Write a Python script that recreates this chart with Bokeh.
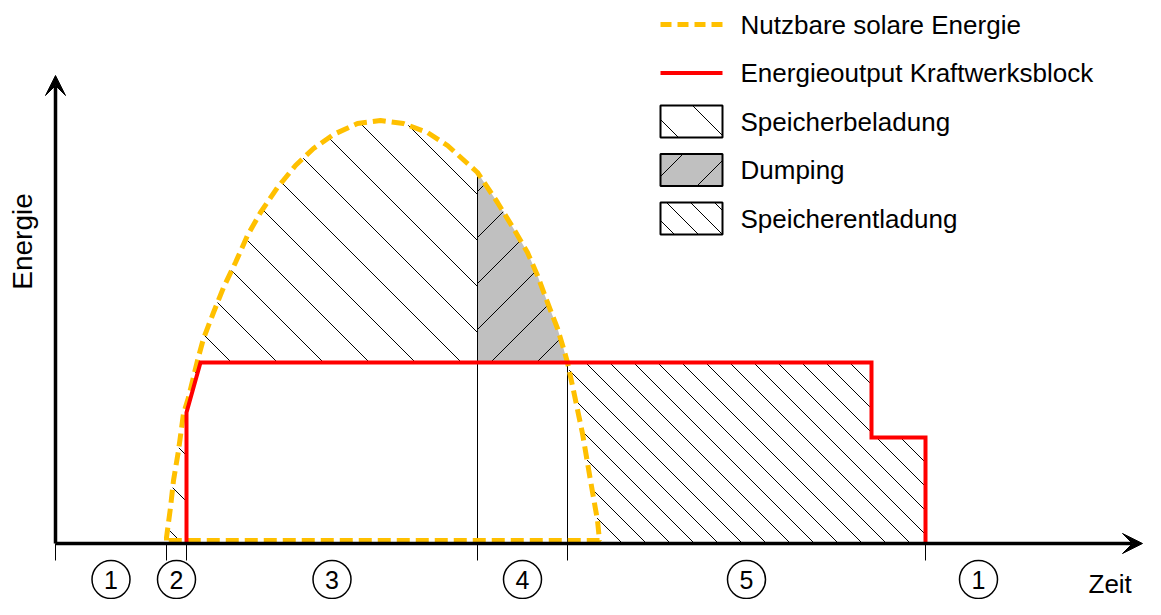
import math
from bokeh.plotting import figure
from bokeh.models import Range1d, Arrow, VeeHead
from bokeh.core.properties import value
from bokeh.embed import file_html
from bokeh.resources import INLINE

# ---------------- data (abstract units: time / energy) ----------------
phase_bounds = [0.0, 11.1, 13.1, 42.2, 51.2, 87.0]
phase_end = 97.6
phase_labels = ["1", "2", "3", "4", "5", "1"]

# usable solar energy (closed curve, dashed)
solar_t = [11.1, 11.1, 11.5, 11.8, 12.3, 12.8, 13.3, 14.2, 14.8, 15.8, 16.8, 18.0,
           19.2, 20.5, 22.2, 24.0, 25.8, 27.8, 30.2, 32.5, 34.8, 37.2, 39.2, 41.2,
           42.2, 44.2, 45.8, 47.2, 48.2, 49.2, 50.2, 50.8, 51.2, 51.8, 52.7, 53.5,
           54.2, 54.4]
solar_e = [0.3, 0.6, 3.6, 6.3, 9.3, 13.0, 14.6, 18.3, 20.5, 23.1, 25.6, 28.1,
           30.8, 33.1, 35.6, 37.8, 39.5, 40.9, 42.0, 42.3, 42.0, 41.1, 39.8, 38.0,
           37.1, 34.1, 31.5, 29.1, 26.8, 24.1, 21.5, 19.5, 18.1, 15.3, 11.0, 6.3,
           2.3, 0.3]
solar_base = 0.3

# power block energy output (red)
block_t = [13.1, 13.1, 14.5, 81.6, 81.6, 87.0, 87.0]
block_e = [0.0, 13.1, 18.1, 18.1, 10.6, 10.6, 0.0]
block_level = 18.1

legend_labels = ["Nutzbare solare Energie", "Energieoutput Kraftwerksblock",
                 "Speicherbeladung", "Dumping", "Speicherentladung"]

# ---------------- styling / layout constants ----------------
FONT = "Liberation Sans"
ORANGE = "#FFC000"
RED = "#FF0000"
GREY = "#C0C0C0"
x_axis_end = 108.7
y_axis_end = 46.8
tick_depth = -1.7
label_y = -3.6


def hatch(px, py, s, spacing, offset):
    """Segments of the family x + s*y = c clipped to polygon (px, py)."""
    n = len(px)
    us = [px[i] + s * py[i] for i in range(n)]
    kmin = math.floor((min(us) - offset) / spacing)
    kmax = math.ceil((max(us) - offset) / spacing)
    x0, y0, x1, y1 = [], [], [], []
    for k in range(kmin, kmax + 1):
        c = offset + k * spacing
        pts = []
        for i in range(n):
            j = (i + 1) % n
            u1, u2 = us[i], us[j]
            if (u1 <= c < u2) or (u2 <= c < u1):
                t = (c - u1) / (u2 - u1)
                pts.append((px[i] + t * (px[j] - px[i]), py[i] + t * (py[j] - py[i])))
        pts.sort()
        for a in range(0, len(pts) - 1, 2):
            x0.append(pts[a][0]); y0.append(pts[a][1])
            x1.append(pts[a + 1][0]); y1.append(pts[a + 1][1])
    return x0, y0, x1, y1


# ---------------- derived regions ----------------
t_on, t_split, t_full = phase_bounds[2], phase_bounds[3], phase_bounds[4]

char_x, char_y = [t_on, solar_t[0]], [0.0, 0.0]
for t, e in zip(solar_t, solar_e):
    if t <= t_split and e > 0.35:
        char_x.append(t); char_y.append(e)
char_x += [t_split, block_t[2], block_t[1]]
char_y += [block_level, block_e[2], block_e[1]]

dump_x, dump_y = [], []
for t, e in zip(solar_t, solar_e):
    if t_split <= t <= t_full and e >= block_level:
        dump_x.append(t); dump_y.append(e)
dump_x.append(t_split); dump_y.append(block_level)

dis_x = [t_full] + block_t[3:]
dis_y = [block_level] + block_e[3:]
tail = [(t, e) for t, e in zip(solar_t, solar_e) if t > t_full]
for t, e in reversed(tail):
    dis_x.append(t); dis_y.append(0.0 if e < 0.5 else e)

sol_x = solar_t + [solar_t[0]]
sol_y = solar_e + [solar_base]

sep_top = []
for b in phase_bounds:
    if abs(b - t_split) < 1e-9:
        sep_top.append(solar_e[solar_t.index(t_split)] - 0.4)
    elif abs(b - t_full) < 1e-9:
        sep_top.append(block_level)
    else:
        sep_top.append(0.0)

edges = phase_bounds + [phase_end]
phase_x = [(a + b) / 2 for a, b in zip(edges[:-1], edges[1:])]

# ---------------- figure ----------------
p = figure(width=1145, height=599, output_backend="svg", toolbar_location=None,
           x_range=Range1d(-5.5, 109.0), y_range=Range1d(-5.6, 54.3),
           min_border=0, outline_line_color=None)
p.axis.visible = False
p.grid.visible = False
p.background_fill_color = "white"
p.border_fill_color = "white"

# regions
p.patch(char_x, char_y, fill_color="white", line_color=None)
p.patch(dump_x, dump_y, fill_color=GREY, line_color=None)
p.patch(dis_x, dis_y, fill_color="white", line_color=None)
for (hx, hy, s, sp, off) in [(char_x, char_y, 1, 4.6, 3.5),
                             (dump_x, dump_y, -1, 4.6, 7.0),
                             (dis_x, dis_y, 1, 2.4, 1.5)]:
    a, b, c, d = hatch(hx, hy, s, sp, off)
    p.segment(a, b, c, d, line_color="black", line_width=1)

# separators & ticks
p.segment(x0=phase_bounds, y0=sep_top, x1=phase_bounds, y1=[tick_depth] * len(phase_bounds),
          line_color="black", line_width=1)

# solar curve and block output
p.line(sol_x, sol_y, line_color=ORANGE, line_width=5, line_dash="13 6")
p.line(block_t, block_e, line_color=RED, line_width=4, line_join="miter")

# axes with arrows
p.add_layout(Arrow(x_start=0, y_start=0, x_end=x_axis_end, y_end=0,
                   line_width=3.5, line_color="black",
                   end=VeeHead(size=20, fill_color="black", line_color="black", line_width=1)))
p.add_layout(Arrow(x_start=0, y_start=0, x_end=0, y_end=y_axis_end,
                   line_width=3.5, line_color="black",
                   end=VeeHead(size=20, fill_color="black", line_color="black", line_width=1)))

# axis titles
p.text(x=[103.3], y=[-4.0], text=["Zeit"], text_font=value(FONT), text_font_size="26px",
       text_align="left", text_baseline="alphabetic", text_color="black")
p.text(x=[-3.3], y=[30.2], text=["Energie"], text_font=value(FONT), text_font_size="28px",
       text_align="center", text_baseline="middle", angle=math.pi / 2, text_color="black")

# phase markers
p.scatter(phase_x, [label_y] * len(phase_x), marker="circle", size=38,
          fill_color=None, line_color="black", line_width=1.5)
p.text(x=phase_x, y=[label_y] * len(phase_x), text=phase_labels, text_font=value(FONT),
       text_font_size="25px", text_align="center", text_baseline="middle", text_color="black")

# ---------------- legend ----------------
leg_left, leg_w, leg_h = 60.5, 6.2, 3.2
leg_rows = [51.9 - 4.85 * i for i in range(5)]
label_x = leg_left + leg_w + 1.8

p.line([leg_left, leg_left + leg_w], [leg_rows[0]] * 2, line_color=ORANGE, line_width=5,
       line_dash="11 6")
p.line([leg_left, leg_left + leg_w], [leg_rows[1]] * 2, line_color=RED, line_width=4)
sw_styles = [("white", 1, 4.6, 1.7), (GREY, -1, 4.6, 0.8), ("white", 1, 2.4, 1.6)]
for row, (fc, s, sp, off) in zip(leg_rows[2:], sw_styles):
    bx = [leg_left, leg_left + leg_w, leg_left + leg_w, leg_left]
    by = [row - leg_h / 2, row - leg_h / 2, row + leg_h / 2, row + leg_h / 2]
    p.patch(bx, by, fill_color=fc, line_color=None)
    a, b, c, d = hatch(bx, by, s, sp, off)
    p.segment(a, b, c, d, line_color="black", line_width=1)
    p.patch(bx, by, fill_color=None, line_color="black", line_width=2)
p.text(x=[label_x] * 5, y=leg_rows, text=legend_labels, text_font=value(FONT),
       text_font_size="26px", text_align="left", text_baseline="middle", text_color="black")

open("out.html", "w").write(file_html(p, INLINE))
